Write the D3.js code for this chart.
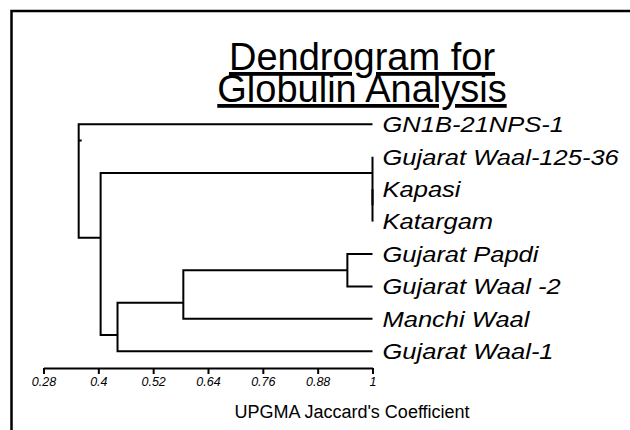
<!DOCTYPE html>
<html><head><meta charset="utf-8">
<script src="https://cdn.jsdelivr.net/npm/d3@7"></script>
<style>
html,body{margin:0;padding:0;background:#fff;}
svg{display:block;font-family:"Liberation Sans",Arial,sans-serif;}
</style></head>
<body>
<svg id="chart" width="630" height="430"></svg>
<script>
// ---- data ----
const leaves = ["GN1B-21NPS-1","Gujarat Waal-125-36","Kapasi","Katargam","Gujarat Papdi","Gujarat Waal -2","Manchi Waal","Gujarat Waal-1"];
// hclust-style merges: negative = leaf (1-based), positive = earlier merge (1-based)
const mergeA = [-3, -2, -5, 3, 4, 2, -1];
const mergeB = [-4,  1, -6, -7, -8, 5, 6];
const mergeHeight = [1.0, 1.0, 0.945, 0.586, 0.442, 0.405, 0.357];
const tickValues = [0.28, 0.4, 0.52, 0.64, 0.76, 0.88, 1];
const tickLabels = ["0.28","0.4","0.52","0.64","0.76","0.88","1"];
const titleLines = ["Dendrogram for","Globulin Analysis"];
const axisTitle = "UPGMA Jaccard's Coefficient";

const svg = d3.select("#chart");

// frame
svg.append("rect").attr("x",11.5).attr("y",11).attr("width",700).attr("height",500)
  .attr("fill","none").attr("stroke","#000").attr("stroke-width",2.5);

const x = d3.scaleLinear().domain([0.28,1]).range([43.5,372.5]);
const y = d3.scalePoint().domain(leaves).range([124.3,351.3]);

// build nodes
const nodes = [];
function child(c){
  if (c < 0) { const i = -c-1; return {x:x(1), y:y(leaves[i]), first:i, last:i}; }
  return nodes[c-1];
}
const g = svg.append("g").attr("fill","none").attr("stroke","#000").attr("stroke-width",2);
mergeHeight.forEach((h,k)=>{
  const a = child(mergeA[k]), b = child(mergeB[k]);
  const nx = x(h);
  const ny = (y(leaves[a.last]) + y(leaves[b.first]))/2;
  nodes.push({x:nx, y:ny, first:Math.min(a.first,b.first), last:Math.max(a.last,b.last)});
  g.append("path").attr("d", `M${a.x},${a.y}H${nx}V${b.y}H${b.x}`);
});
// root stub
const root = nodes[nodes.length-1];
g.append("path").attr("d",`M${root.x},${root.y}h3`);

// leaf labels (slightly stretched horizontally, as in the reference)
const stretch = 1.16;
svg.append("g").attr("transform",`translate(${x(1)+10},0) scale(${stretch},1)`)
  .selectAll("text").data(leaves).join("text")
  .attr("x", 0).attr("y", d=>y(d)).attr("dy","0.36em")
  .attr("font-size",22).attr("font-style","italic").attr("fill","#000")
  .text(d=>d);

// axis
const axis = d3.axisBottom(x).tickValues(tickValues)
  .tickFormat((d,i)=>tickLabels[i]).tickSize(6).tickSizeOuter(0).tickPadding(3);
const ag = svg.append("g").attr("transform","translate(0,368)").call(axis);
ag.select(".domain").attr("stroke","#000").attr("stroke-width",2);
ag.selectAll(".tick line").attr("stroke","#000").attr("stroke-width",2);
ag.selectAll(".tick text").attr("font-size",12.5).attr("font-style","italic")
  .attr("font-family","'Liberation Sans',Arial,sans-serif").attr("fill","#000");

// axis title
svg.append("text").attr("x",352).attr("y",418).attr("text-anchor","middle")
  .attr("font-size",18).attr("fill","#000").text(axisTitle);

// title
svg.append("g").selectAll("text").data(titleLines).join("text")
  .attr("x",362).attr("y",(d,i)=>70+i*32).attr("text-anchor","middle")
  .attr("font-size",38).attr("fill","#000").style("text-decoration","underline")
  .text(d=>d);
</script>
</body></html>
